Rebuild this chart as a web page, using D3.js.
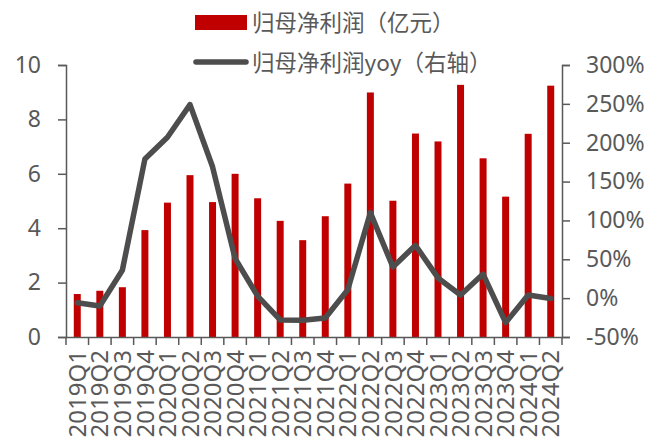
<!DOCTYPE html>
<html>
<head>
<meta charset="utf-8">
<script src="https://cdn.jsdelivr.net/npm/d3@7/dist/d3.min.js"></script>
<style>
  html, body { margin: 0; padding: 0; background: #fff; }
  svg text { font-family: "Noto Sans", "Noto Sans CJK SC", sans-serif; fill: #595959; }
</style>
</head>
<body>
<svg id="chart" width="651" height="441"></svg>
<script>
// Quarterly net profit attributable to parent (亿元) and its YoY growth (%)
const quarters = ["2019Q1","2019Q2","2019Q3","2019Q4","2020Q1","2020Q2","2020Q3","2020Q4",
                  "2021Q1","2021Q2","2021Q3","2021Q4","2022Q1","2022Q2","2022Q3","2022Q4",
                  "2023Q1","2023Q2","2023Q3","2023Q4","2024Q1","2024Q2"];
const profit = [1.58, 1.70, 1.83, 3.93, 4.94, 5.95, 4.96, 6.00,
                5.10, 4.27, 3.56, 4.44, 5.64, 8.99, 5.01, 7.48,
                7.19, 9.27, 6.57, 5.16, 7.47, 9.24];
const yoy = [-6, -10, 36, 179, 207, 249, 169, 51,
             2.5, -28, -28.5, -25.5, 11, 110, 40, 68,
             26, 4, 31, -31.5, 4, -0.5];
const leftTicks = [0, 2, 4, 6, 8, 10];
const rightTicks = [-50, 0, 50, 100, 150, 200, 250, 300];
const legendLabels = ["归母净利润（亿元）", "归母净利润yoy（右轴）"];

const svg = d3.select("#chart");
const m = { left: 66, right: 562, top: 65, bottom: 337 };
const axisColor = "#595959";
const barColor = "#c00000";
const lineColor = "#4d4d4d";

const x = d3.scaleBand().domain(quarters).range([m.left, m.right]).paddingInner(0.69).paddingOuter(0.345);
const xTicks = d3.scaleBand().domain(quarters).range([m.left, m.right]);
const yL = d3.scaleLinear().domain([0, 10]).range([m.bottom, m.top]);
const yR = d3.scaleLinear().domain([-50, 300]).range([m.bottom, m.top]);

// bars
svg.append("g").selectAll("rect").data(profit).join("rect")
  .attr("x", (d, i) => x(quarters[i]))
  .attr("width", x.bandwidth())
  .attr("y", d => yL(d))
  .attr("height", d => yL(0) - yL(d))
  .attr("fill", barColor);

// left axis
const gL = svg.append("g").attr("transform", `translate(${m.left},0)`)
  .call(d3.axisLeft(yL).tickValues(leftTicks).tickSize(8).tickPadding(17).tickSizeOuter(8));
// right axis
const gR = svg.append("g").attr("transform", `translate(${m.right},0)`)
  .call(d3.axisRight(yR).tickValues(rightTicks).tickFormat(d => d + "%").tickSize(8).tickPadding(16).tickSizeOuter(8));
// bottom axis with ticks on category boundaries
const gB = svg.append("g").attr("transform", `translate(0,${m.bottom})`)
  .call(d3.axisBottom(xTicks).tickSize(0).tickSizeOuter(0));
gB.selectAll(".tick line").remove();
gB.selectAll(".tick text")
  .attr("transform", "rotate(-90)")
  .attr("text-anchor", "end")
  .attr("x", -13)
  .attr("y", 0)
  .attr("dy", "0.36em")
  .style("font-size", "24px");
const bounds = quarters.map(q => xTicks(q)).concat([m.right]);
gB.selectAll("line.bt").data(bounds).join("line").attr("class", "bt")
  .attr("x1", d => d).attr("x2", d => d).attr("y1", 0).attr("y2", 8)
  .attr("stroke", axisColor).attr("stroke-width", 1.5);

[gL, gR, gB].forEach(g => {
  g.select(".domain").attr("stroke", axisColor).attr("stroke-width", 1.5);
  g.selectAll(".tick line").attr("stroke", axisColor).attr("stroke-width", 1.5);
});
gL.selectAll(".tick text").style("font-size", "23px");
gR.selectAll(".tick text").style("font-size", "23px");

// yoy line
const line = d3.line()
  .x((d, i) => x(quarters[i]) + x.bandwidth() / 2)
  .y(d => yR(d));
svg.append("path").datum(yoy)
  .attr("d", line)
  .attr("fill", "none")
  .attr("stroke", lineColor)
  .attr("stroke-width", 5.5)
  .attr("stroke-linejoin", "round")
  .attr("stroke-linecap", "round");

// legend
const lg = svg.append("g");
lg.append("rect").attr("x", 195).attr("y", 15).attr("width", 52).attr("height", 15).attr("fill", barColor);
lg.append("text").attr("x", 252).attr("y", 31).style("font-size", "22.5px")
  .style("font-family", "'Noto Sans CJK SC', sans-serif").text(legendLabels[0]);
lg.append("line").attr("x1", 196).attr("x2", 246).attr("y1", 62).attr("y2", 62)
  .attr("stroke", lineColor).attr("stroke-width", 5.5).attr("stroke-linecap", "round");
lg.append("text").attr("x", 252).attr("y", 71).style("font-size", "22.5px")
  .style("font-family", "'Noto Sans CJK SC', sans-serif").text(legendLabels[1]);
</script>
</body>
</html>
